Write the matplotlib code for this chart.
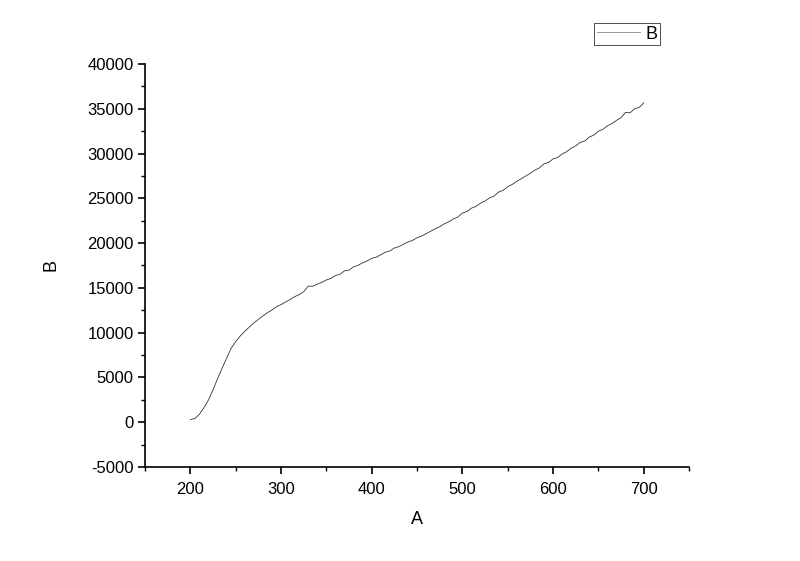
import matplotlib.pyplot as plt
from matplotlib.ticker import MultipleLocator

plt.rcParams["font.family"] = ["Liberation Sans", "DejaVu Sans"]
plt.rcParams["axes.unicode_minus"] = False

# data, A step 5
a_vals = list(range(200, 701, 5))
b_vals = [
    300, 420, 880, 1620, 2480, 3620, 4850, 6020, 7150, 8250,
    9000, 9620, 10150, 10620, 11080, 11480, 11870, 12230, 12520, 12900,
    13130, 13420, 13700, 14020, 14250, 14560, 15200, 15180, 15420, 15620,
    15880, 16050, 16380, 16520, 16900, 16980, 17350, 17520, 17800, 18010,
    18300, 18420, 18700, 18980, 19120, 19450, 19600, 19880, 20120, 20300,
    20600, 20780, 21050, 21320, 21600, 21820, 22150, 22380, 22700, 22900,
    23350, 23520, 23900, 24100, 24450, 24700, 25050, 25250, 25700, 25900,
    26300, 26550, 26900, 27180, 27500, 27800, 28150, 28400, 28850, 29000,
    29400, 29550, 29950, 30200, 30600, 30850, 31250, 31400, 31850, 32050,
    32500, 32700, 33100, 33350, 33700, 34000, 34600, 34550, 35000, 35150,
    35650,
]

fig = plt.figure(figsize=(8, 5.61), dpi=100)
ax = fig.add_axes([0.18125, 0.1676, 0.68, 0.7183])

(line,) = ax.plot(a_vals, b_vals, color="#333333", lw=0.6, label="B")

ax.set_xlim(150, 750)
ax.set_ylim(-5000, 40000)
ax.xaxis.set_major_locator(MultipleLocator(100))
ax.xaxis.set_minor_locator(MultipleLocator(50))
ax.yaxis.set_major_locator(MultipleLocator(5000))
ax.yaxis.set_minor_locator(MultipleLocator(2500))
ax.tick_params(which="major", direction="out", length=5, width=1.2,
               labelsize=12, pad=3)
ax.tick_params(axis="x", which="major", pad=6)
ax.tick_params(which="minor", direction="out", length=3, width=1.0)

for side in ["top", "right"]:
    ax.spines[side].set_visible(False)
for side in ["left", "bottom"]:
    ax.spines[side].set_linewidth(1.2)

ax.set_xlabel("A", fontsize=13, labelpad=10)
ax.set_ylabel("B", fontsize=13, labelpad=20)

leg = fig.legend(handles=[line], loc="upper left", bbox_to_anchor=(0.7425, 0.959),
                 frameon=True, fancybox=False, edgecolor="black", fontsize=13,
                 handlelength=2.4, borderpad=0.15, handletextpad=0.3,
                 borderaxespad=0)
leg.get_frame().set_linewidth(0.6)
leg.get_lines()[0].set_color("#888888")

fig.savefig("out.png", dpi=100)
